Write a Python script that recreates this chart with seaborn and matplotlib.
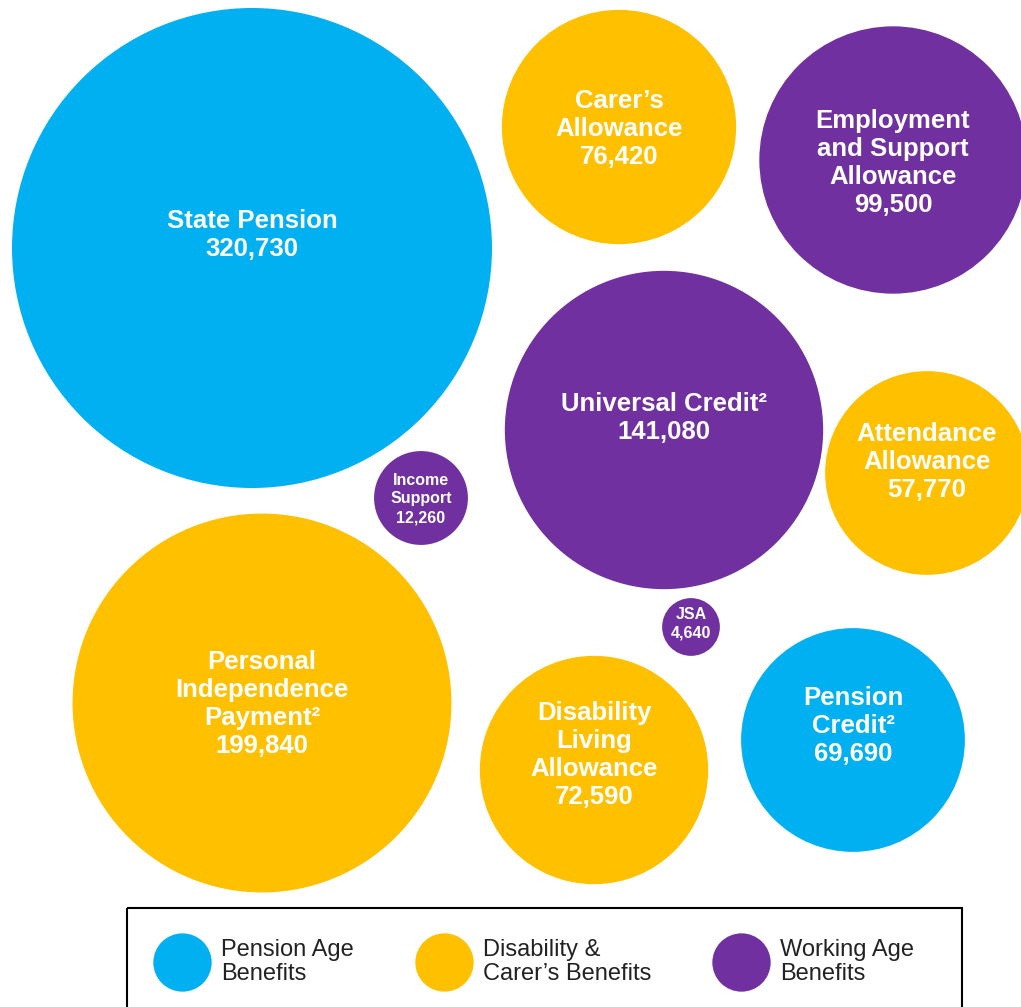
import seaborn as sns
import matplotlib.pyplot as plt
import pandas as pd
from matplotlib.lines import Line2D
from matplotlib.patches import Rectangle

# data
benefits = ["State Pension", "Carer’s\nAllowance", "Employment\nand Support\nAllowance",
            "Universal Credit²", "Attendance\nAllowance", "Income\nSupport", "JSA",
            "Personal\nIndependence\nPayment²", "Disability\nLiving\nAllowance", "Pension\nCredit²"]
claimants = [320730, 76420, 99500, 141080, 57770, 12260, 4640, 199840, 72590, 69690]
groups = ["Pension Age", "Disability", "Working Age", "Working Age", "Disability",
          "Working Age", "Working Age", "Disability", "Disability", "Pension Age"]

group_names = ["Pension Age", "Disability", "Working Age"]
legend_labels = ["Pension Age\nBenefits", "Disability &\nCarer’s Benefits", "Working Age\nBenefits"]

# layout (pixel positions of the bubble centres)
centre_x = [252, 619, 893, 664, 927, 421, 691, 262, 594, 853]
centre_y = [248, 127, 160, 430, 473, 498, 627, 703, 770, 740]
label_dy = [-13, 2, 3, -12, -11, 1, -3, 1, -15, -14]

colours = {"Pension Age": "#00B0F0", "Disability": "#FFC000", "Working Age": "#7030A0"}

W, H, DPI = 1021, 1007, 100
max_r = 240  # pixel radius of the biggest bubble

df = pd.DataFrame({"benefit": benefits, "claimants": claimants, "group": groups,
                   "x": centre_x, "y": centre_y})

sns.set_theme(style="white")
plt.rcParams["font.family"] = ["Liberation Sans", "DejaVu Sans"]

fig = plt.figure(figsize=(W / DPI, H / DPI), dpi=DPI)
ax = fig.add_axes([0, 0, 1, 1])

# marker area in points^2 proportional to value
vmax = max(claimants)
vmin = min(claimants)
k = (2 * max_r * 72 / DPI) ** 2 / vmax
sns.scatterplot(data=df, x="x", y="y", hue="group", palette=colours,
                size="claimants", sizes=(k * vmin, k * vmax), size_norm=(vmin, vmax),
                legend=False, linewidth=0, ax=ax)

for i, row in df.iterrows():
    small = row["claimants"] < 20000
    ax.text(row["x"], row["y"] + label_dy[i], f"{row['benefit']}\n{row['claimants']:,}",
            ha="center", va="center", color="white", fontweight="bold",
            fontsize=11.5 if small else 18.5, linespacing=1.33 if small else 1.2)

ax.set_xlim(0, W)
ax.set_ylim(H, 0)
ax.axis("off")

# legend box
ax.add_patch(Rectangle((127, 908), 835, 130, fill=False, edgecolor="black", lw=1.5))
handles = [Line2D([], [], marker="o", ls="", markersize=42, markeredgewidth=0,
                  markerfacecolor=colours[g]) for g in group_names]
leg = ax.legend(handles, legend_labels, loc="center left", ncol=3, mode="expand",
                bbox_to_anchor=(153, 962, 761, 0), bbox_transform=ax.transData,
                frameon=False, fontsize=17, handlelength=2.47, handletextpad=0.42,
                borderpad=0, borderaxespad=0)
for t in leg.get_texts():
    t.set_linespacing(1.1)
    t.set_color("#222222")

fig.savefig("out.png", dpi=DPI)
